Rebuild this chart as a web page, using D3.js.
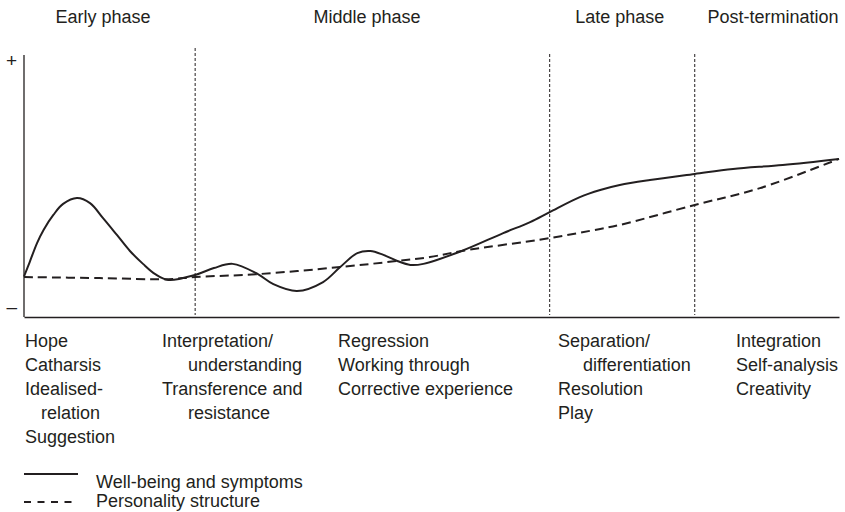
<!DOCTYPE html>
<html>
<head>
<meta charset="utf-8">
<script src="https://cdn.jsdelivr.net/npm/d3@7"></script>
<style>
  html, body { margin: 0; padding: 0; background: #fff; }
  svg { display: block; }
  text { font-family: "Liberation Sans", Arial, Helvetica, sans-serif; fill: #231f20; }
</style>
</head>
<body>
<svg id="chart" width="845" height="512"></svg>
<script>
// ---------- DATA ----------
const phaseNames = ["Early phase", "Middle phase", "Late phase", "Post-termination"];
const phaseBoundaries = [21.0, 64.5, 82.3];           // time (0..100)
const yTickLabels = ["+", "\u2013"];
const yTickValues = [97.5, 4];

// Well-being and symptoms (solid)
const wellbeingT = [0, 0.7, 1.6, 2.4, 3.6, 4.8, 6.5, 8.1, 9.7, 11.4, 13.0, 14.6, 16.1, 17.7, 21.0, 23.3, 25.6, 28.7, 30.6, 33.5, 36.7, 38.8, 40.9, 42.5, 44.1, 45.8, 47.4, 49.0, 53.7, 58.8, 62.1, 64.5, 68.2, 70.7, 73.1, 76.8, 82.3, 87.0, 93.1, 100];
const wellbeingV = [15.4, 20.9, 28.1, 33.1, 38.8, 43.0, 45.2, 43.3, 37.6, 31.2, 25.1, 20.2, 16.3, 14.1, 16.0, 18.6, 20.2, 16.3, 12.5, 9.9, 13.3, 19.0, 24.3, 25.1, 23.6, 21.3, 19.8, 20.2, 25.1, 31.9, 36.1, 39.9, 45.6, 48.3, 50.2, 52.1, 54.4, 56.3, 57.8, 60.1];

// Personality structure (dashed)
const structureT = [0, 9.3, 17.7, 21.0, 28.7, 38.8, 45.8, 49.8, 53.7, 64.5, 70.7, 73.1, 82.3, 90.3, 100];
const structureV = [15.2, 14.8, 14.4, 15.2, 16.3, 19.0, 21.3, 22.8, 25.1, 30.0, 33.5, 35.0, 42.6, 49.0, 60.1];

// Processes per phase (indent = continuation line)
const col1 = [["Hope", 0], ["Catharsis", 0], ["Idealised-", 0], ["relation", 1], ["Suggestion", 0]];
const col2 = [["Interpretation/", 0], ["understanding", 1], ["Transference and", 0], ["resistance", 1]];
const col3 = [["Regression", 0], ["Working through", 0], ["Corrective experience", 0]];
const col4 = [["Separation/", 0], ["differentiation", 1], ["Resolution", 0], ["Play", 0]];
const col5 = [["Integration", 0], ["Self-analysis", 0], ["Creativity", 0]];

const legendLabels = ["Well-being and symptoms", "Personality structure"];

// ---------- LAYOUT ----------
const svg = d3.select("#chart");
const plot = { left: 24, right: 839, top: 55, bottom: 317 };
const x = d3.scaleLinear().domain([0, 100]).range([plot.left, plot.right]);
const y = d3.scaleLinear().domain([0, 100]).range([plot.bottom, 54]);
const ink = "#231f20";
const fontSize = 18;

// Axes
const yAxis = d3.axisLeft(y).tickValues(yTickValues)
  .tickFormat((d, i) => yTickLabels[i]).tickSize(0).tickSizeOuter(0).tickPadding(7);
const gy = svg.append("g").attr("transform", `translate(${plot.left},0)`).call(yAxis);
gy.attr("font-size", fontSize).attr("font-family", "'Liberation Sans', Arial, sans-serif");
gy.select(".domain").attr("d", `M0,${plot.bottom}V${plot.top}`)
  .attr("stroke", ink).attr("stroke-width", 1.3);
gy.selectAll("text").attr("fill", ink).style("font-size", "19px");

const xAxis = d3.axisBottom(x).tickValues([]).tickSize(0).tickSizeOuter(0);
const gx = svg.append("g").attr("transform", `translate(0,${plot.bottom})`).call(xAxis);
gx.select(".domain").attr("stroke", ink).attr("stroke-width", 1.3);

// Phase boundaries
const boundaryTop = [48, 54, 54];
svg.selectAll("line.phase").data(phaseBoundaries).enter().append("line")
  .attr("class", "phase")
  .attr("x1", d => x(d)).attr("x2", d => x(d))
  .attr("y1", (d, i) => boundaryTop[i]).attr("y2", plot.bottom - 2)
  .attr("stroke", ink).attr("stroke-width", 1).attr("stroke-dasharray", "3,2");

// Phase titles
const phaseLabelPos = [9.7, 42.1, 73.1, 91.9];
svg.selectAll("text.phaseName").data(phaseNames).enter().append("text")
  .attr("class", "phaseName")
  .attr("x", (d, i) => x(phaseLabelPos[i])).attr("y", 23)
  .attr("text-anchor", "middle").style("font-size", fontSize + "px")
  .text(d => d);

// Curves
const line = d3.line().x(d => x(d[0])).y(d => y(d[1])).curve(d3.curveCatmullRom.alpha(0.5));
const structure = structureT.map((t, i) => [t, structureV[i]]);
const wellbeing = wellbeingT.map((t, i) => [t, wellbeingV[i]]);

svg.append("path").datum(structure).attr("d", line)
  .attr("fill", "none").attr("stroke", ink).attr("stroke-width", 2)
  .attr("stroke-dasharray", "9,5");
svg.append("path").datum(wellbeing).attr("d", line)
  .attr("fill", "none").attr("stroke", ink).attr("stroke-width", 2);

// Process columns
const cols = [col1, col2, col3, col4, col5];
const colX = [25, 162, 338, 558, 736];
const indents = [16, 26, 0, 25, 0];
cols.forEach((col, ci) => {
  svg.append("g").selectAll("text").data(col).enter().append("text")
    .attr("x", d => colX[ci] + (d[1] ? indents[ci] : 0))
    .attr("y", (d, i) => 347 + i * 24)
    .style("font-size", fontSize + "px")
    .text(d => d[0]);
});

// Legend
const legendY = [474, 502];
const legendDash = [null, "7,6.5"];
const legendLen = [54, 48];
legendLabels.forEach((lab, i) => {
  svg.append("line").attr("x1", 24).attr("x2", 24 + legendLen[i])
    .attr("y1", legendY[i]).attr("y2", legendY[i])
    .attr("stroke", ink).attr("stroke-width", 2)
    .attr("stroke-dasharray", legendDash[i]);
  svg.append("text").attr("x", 96).attr("y", i === 0 ? 488 : 507)
    .style("font-size", fontSize + "px").text(lab);
});
</script>
</body>
</html>
